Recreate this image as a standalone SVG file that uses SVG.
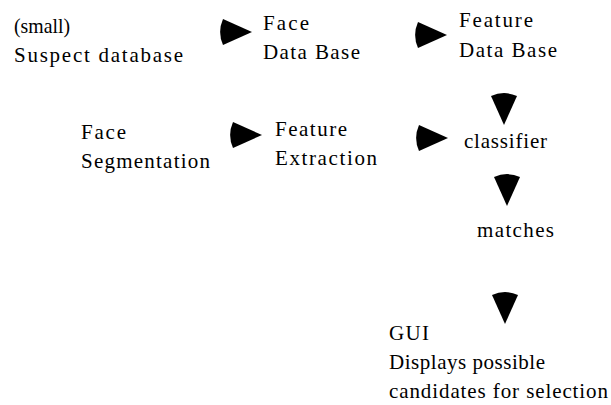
<svg xmlns="http://www.w3.org/2000/svg" width="611" height="405" viewBox="0 0 611 405">
<style>
.t{font-family:"Liberation Serif","DejaVu Serif",serif;font-size:21px;fill:#000}
</style>
<defs>
<path id="arr" fill="#000" d="M0,0 L-29,-13 A32,32 0 0 0 -29,13 Z"/>
</defs>
<rect width="611" height="405" fill="#fff"/>
<g id="connectors">
<use href="#arr" transform="translate(252,32)"/>
<use href="#arr" transform="translate(447,35)"/>
<use href="#arr" transform="translate(262,135)"/>
<use href="#arr" transform="translate(448,138)"/>
<use href="#arr" transform="translate(504,125) rotate(90)"/>
<use href="#arr" transform="translate(507,206) rotate(90)"/>
<use href="#arr" transform="translate(505,324) rotate(90)"/>
</g>
<g id="suspect-db" class="t"><text x="14" y="33" textLength="56" lengthAdjust="spacingAndGlyphs">(small)</text><text x="14" y="62" textLength="169" lengthAdjust="spacing">Suspect database</text></g>
<g id="face-db" class="t"><text x="263" y="30" textLength="46" lengthAdjust="spacing">Face</text><text x="263" y="59" textLength="97" lengthAdjust="spacing">Data Base</text></g>
<g id="feature-db" class="t"><text x="459" y="27" textLength="74" lengthAdjust="spacing">Feature</text><text x="459" y="57" textLength="98" lengthAdjust="spacing">Data Base</text></g>
<g id="face-seg" class="t"><text x="81" y="139" textLength="45" lengthAdjust="spacing">Face</text><text x="81" y="168" textLength="129" lengthAdjust="spacing">Segmentation</text></g>
<g id="feature-ext" class="t"><text x="275" y="136" textLength="72" lengthAdjust="spacing">Feature</text><text x="275" y="165" textLength="102" lengthAdjust="spacing">Extraction</text></g>
<g id="classifier" class="t"><text x="464" y="148" textLength="83" lengthAdjust="spacing">classifier</text></g>
<g id="matches" class="t"><text x="477" y="237" textLength="77" lengthAdjust="spacing">matches</text></g>
<g id="gui" class="t"><text x="389" y="340" textLength="40" lengthAdjust="spacing">GUI</text><text x="389" y="369" textLength="156" lengthAdjust="spacing">Displays possible</text><text x="389" y="398" textLength="219" lengthAdjust="spacing">candidates for selection</text></g>
</svg>
